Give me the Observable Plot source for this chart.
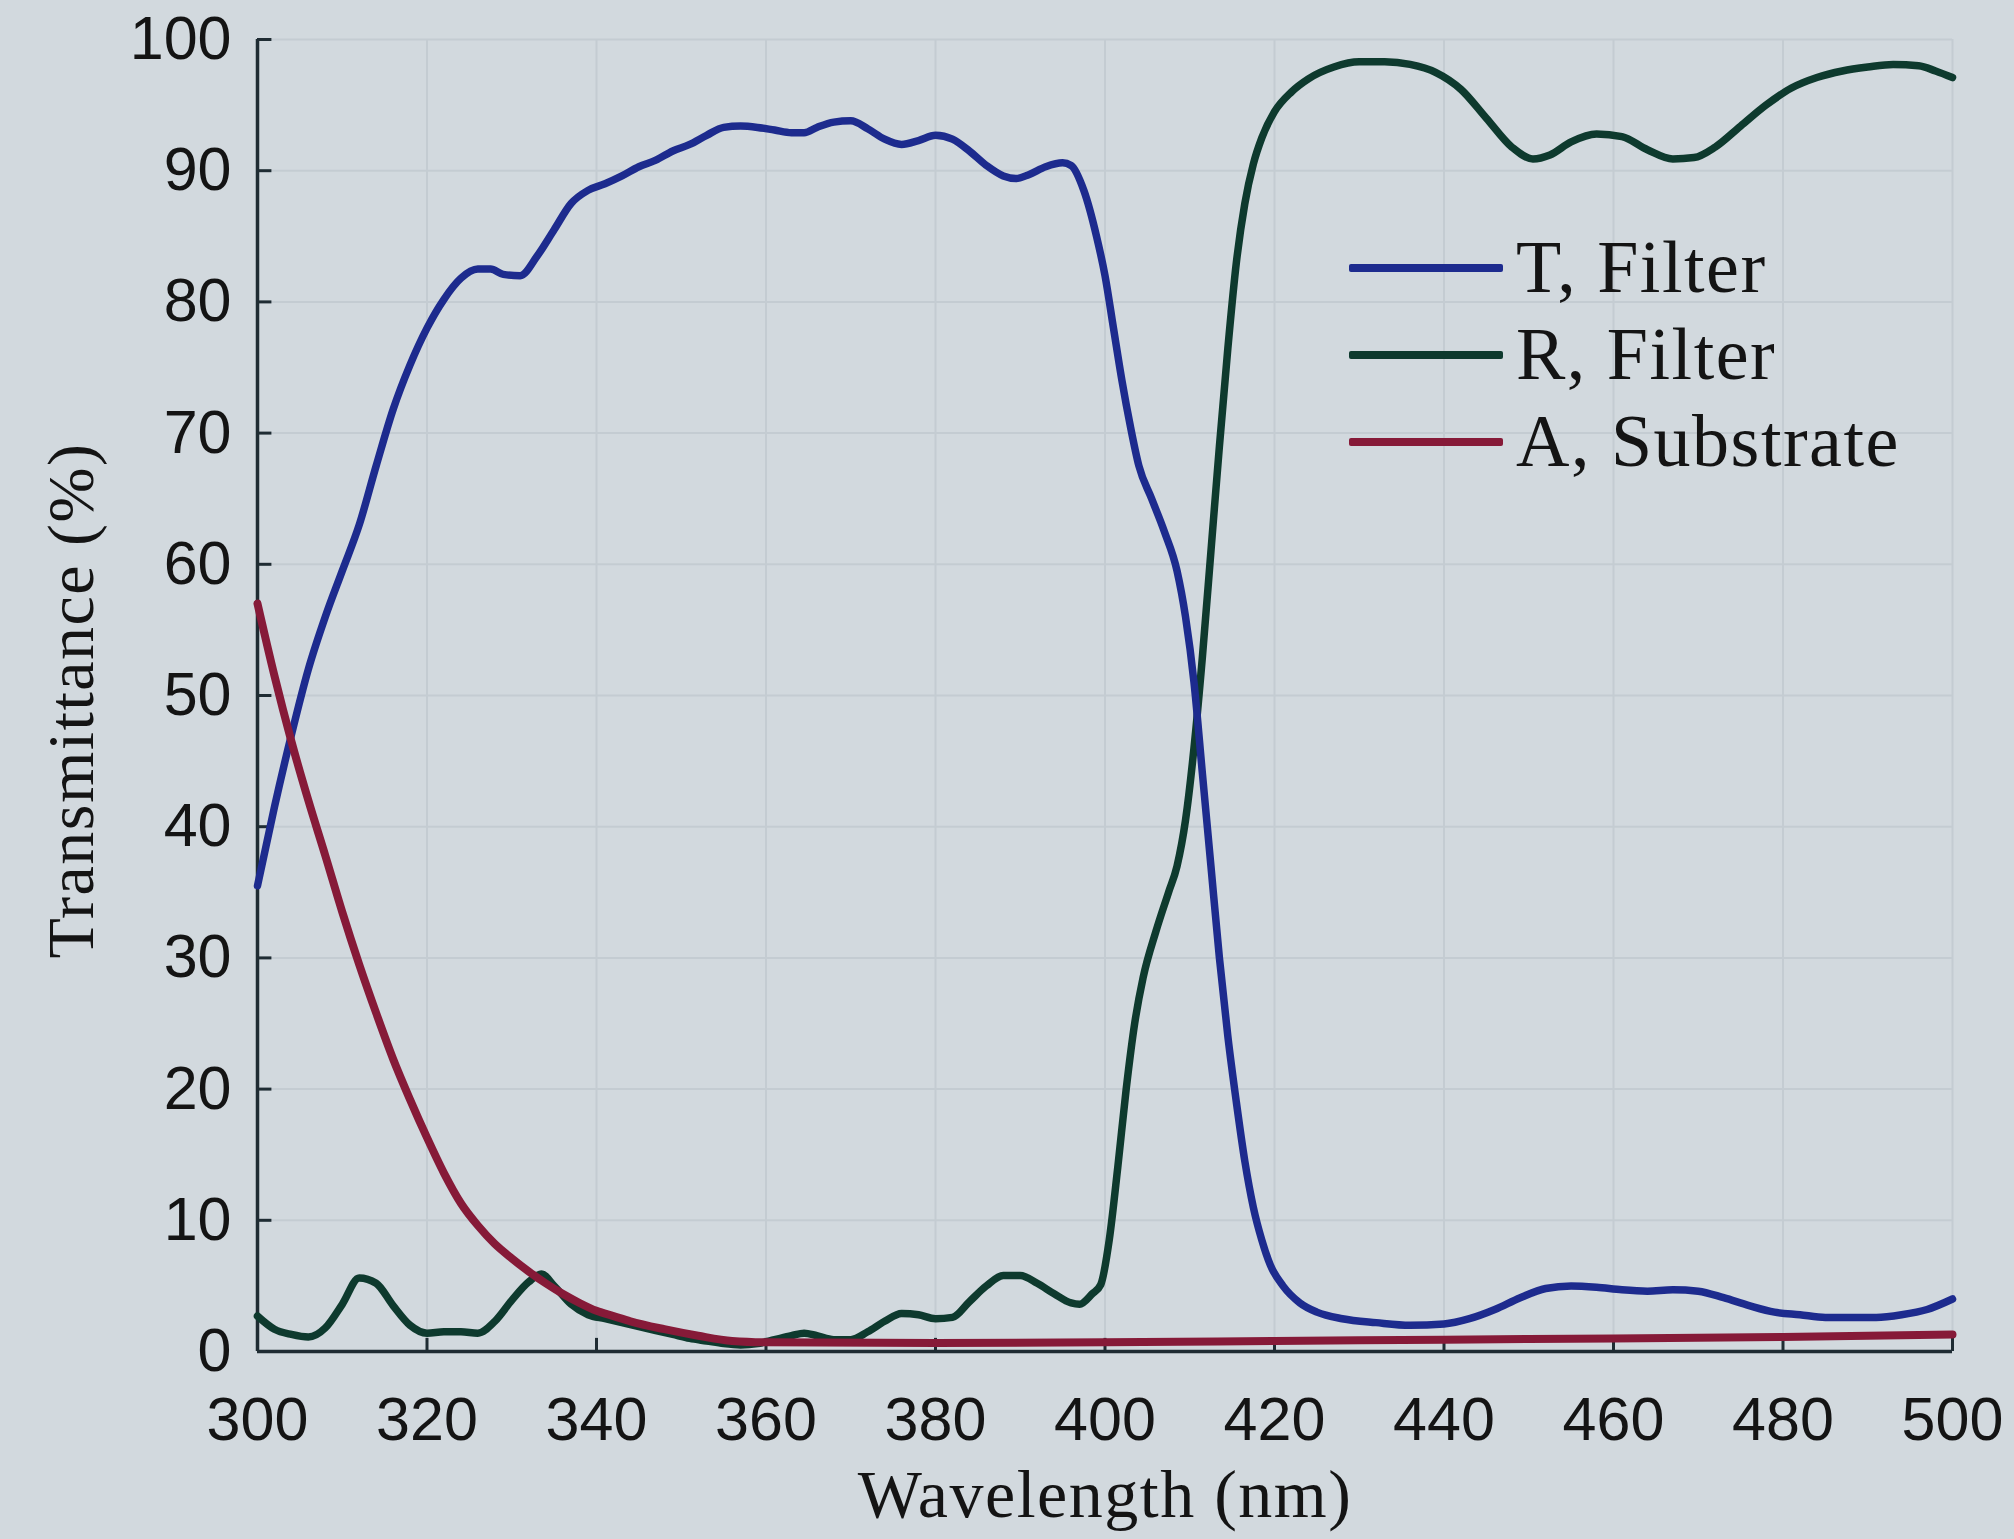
<!DOCTYPE html>
<html>
<head>
<meta charset="utf-8">
<script src="https://cdn.jsdelivr.net/npm/d3@7"></script>
<script src="https://cdn.jsdelivr.net/npm/@observablehq/plot@0.6"></script>
<style>
html, body { margin: 0; padding: 0; background: #d2d9de; }
#wrap { position: relative; width: 2014px; height: 1539px; overflow: hidden; }
#legend { position: absolute; left: 1349px; top: 224px; font-family: "Liberation Serif", serif; font-size: 74px; letter-spacing: 1.5px; color: #141414; }
#legend .row { display: flex; align-items: center; height: 87px; }
#legend .sw { width: 154px; height: 8px; margin-right: 13px; border-radius: 2px; }
</style>
</head>
<body>
<div id="wrap"></div>
<script>
// ---- Data ----
const xTicks = [300, 320, 340, 360, 380, 400, 420, 440, 460, 480, 500];
const yTicks = [0, 10, 20, 30, 40, 50, 60, 70, 80, 90, 100];

const seriesNames = ["T, Filter", "R, Filter", "A, Substrate"];
const seriesColors = ["#1d2b8e", "#0e3a2e", "#861a38"];

const wlT = [300,302,304,306,308,310,312,314,316,318,320,322,324,326,327.5,329,331,333,335,337,339,341,343,345,347,349,351,353,355,357,359,361,363,364.5,366,368,370,372,374,376,378,380,382,384,386,388,389.5,391,393,395,396,397.5,399,400,401,402,403,404,405.5,407,408.5,409.5,410.5,411.5,412.5,413.5,414.5,415.5,416.5,417.5,418.5,419.5,421,423,425,428,432,436,440,443,446,449,452,455,458,461,464,467,470,473,476,479,482,485,488,491,494,497,500];
const valT = [35.5,41.5,47,52,56,59.5,63,67.5,71.8,75.2,78,80.2,81.8,82.5,82.5,82.1,82.0,83.5,85.5,87.5,88.5,89,89.6,90.3,90.8,91.5,92,92.7,93.3,93.4,93.3,93.1,92.9,92.9,93.3,93.7,93.8,93.2,92.4,92.0,92.3,92.7,92.4,91.5,90.4,89.6,89.4,89.7,90.3,90.6,90.4,88.5,85,82,78,74,70.5,67.5,65,62.5,59.5,56,51,44,37,30,24,19,14.5,11,8.5,6.6,5,3.7,3,2.5,2.2,2.0,2.1,2.5,3.2,4.1,4.8,5.0,4.9,4.7,4.6,4.7,4.6,4.1,3.5,3.0,2.8,2.6,2.6,2.6,2.8,3.2,4.0];

const wlR = [300,302,304,306,308,310,312,314,316,318,320,322,324,326,328,330,332,333.5,335,337,339,341,343,345,347,349,351,353,355,357,359,361,363,364.5,366,368,370,372,374,376,378,380,382,384,386,388,390,392,394,396,397,398.5,399.5,400.5,401.5,402.5,403.5,404.5,406,407.5,408.5,409.5,410.5,411.5,412.5,413.5,414.5,415.5,416.5,417.5,418.5,420,422,424,427,430,433,436,439,442,445,448,450.5,452.5,455,458,461,464,467,469.5,472,475,478,481,484,487,490,493,496,498,500];
const valR = [2.7,1.7,1.3,1.1,1.8,3.6,5.6,5.2,3.5,2.0,1.4,1.5,1.5,1.4,2.3,3.9,5.3,5.9,5.0,3.6,2.8,2.5,2.2,1.9,1.6,1.3,1.0,0.8,0.6,0.5,0.6,0.9,1.2,1.4,1.2,0.9,0.9,1.5,2.3,2.9,2.8,2.5,2.6,3.8,5.0,5.8,5.8,5.2,4.4,3.7,3.6,4.4,5.1,8.5,14,20,25,28.5,32,35,37,40.5,46,53,61,69,76.5,83,87.5,90.5,92.5,94.5,96,97,97.9,98.3,98.3,98.1,97.5,96.2,94,91.8,90.9,91.2,92.2,92.8,92.6,91.6,90.9,91.0,91.8,93.4,95,96.3,97.1,97.6,97.9,98.1,98,97.6,97.1];

const wlA = [300,302,304,306,308,310,312,314,316,318,320,322,324,326,328,330,332,334,336,338,340,342,344,348,352,356,360,380,400,420,440,460,480,500];
const valA = [57,51.5,46.5,42,37.8,33.5,29.5,25.8,22.3,19.2,16.3,13.6,11.3,9.6,8.2,7.1,6.1,5.2,4.4,3.7,3.1,2.7,2.3,1.7,1.2,0.8,0.7,0.65,0.7,0.8,0.9,1.0,1.1,1.3];

// ---- Build table ----
const toRows = (name, wl, v) => wl.map((w, i) => ({series: name, wl: w, v: v[i]}));
const rowsT = toRows(seriesNames[0], wlT, valT);
const rowsR = toRows(seriesNames[1], wlR, valR);
const rowsA = toRows(seriesNames[2], wlA, valA);

const axisColor = "#1f2c33";
const gridColor = "#c4ccd2";

const chart = Plot.plot({
  width: 2014,
  height: 1539,
  marginLeft: 257,
  marginRight: 62,
  marginTop: 39,
  marginBottom: 188,
  style: {background: "transparent", overflow: "visible"},
  x: {domain: [300, 500]},
  y: {domain: [0, 100]},
  color: {domain: seriesNames, range: seriesColors},
  marks: [
    Plot.gridX(xTicks, {stroke: gridColor, strokeOpacity: 1, strokeWidth: 2}),
    Plot.gridY(yTicks, {stroke: gridColor, strokeOpacity: 1, strokeWidth: 2}),
    Plot.axisX(xTicks, {tickSize: 0, tickPadding: 45, fontSize: 61, fontFamily: "Liberation Sans, Arial, sans-serif", fill: "#141414", label: null}),
    Plot.axisY(yTicks, {tickSize: 0, tickPadding: 26, fontSize: 61, fontFamily: "Liberation Sans, Arial, sans-serif", fill: "#141414", label: null}),
    Plot.ruleX(xTicks, {y1: 0, y2: 1.0, stroke: axisColor, strokeWidth: 3}),
    Plot.ruleY(yTicks, {x1: 300, x2: 301.7, stroke: axisColor, strokeWidth: 3}),
    Plot.ruleY([0], {stroke: axisColor, strokeWidth: 3.5}),
    Plot.ruleX([300], {stroke: axisColor, strokeWidth: 3.5}),
    Plot.line(rowsR, {x: "wl", y: "v", stroke: "series", strokeWidth: 7.5, curve: "monotone-x"}),
    Plot.line(rowsT, {x: "wl", y: "v", stroke: "series", strokeWidth: 7.5, curve: "monotone-x"}),
    Plot.line(rowsA, {x: "wl", y: "v", stroke: "series", strokeWidth: 8, curve: "monotone-x"}),
    Plot.text(["Wavelength (nm)"], {text: d => d, frameAnchor: "bottom", dy: 165, lineAnchor: "bottom", textAnchor: "middle", fontSize: 68, fontFamily: "Liberation Serif, serif", fill: "#141414"}),
    Plot.text(["Transmittance (%)"], {text: d => d, frameAnchor: "left", dx: -165, dy: 5, rotate: -90, lineAnchor: "bottom", textAnchor: "middle", fontSize: 66, fontFamily: "Liberation Serif, serif", fill: "#141414"})
  ]
});

d3.select(chart).selectAll("text")
  .filter(function() { return this.textContent === "Wavelength (nm)" || this.textContent === "Transmittance (%)"; })
  .style("letter-spacing", "1.5px");

const wrap = document.getElementById("wrap");
wrap.appendChild(chart);

// Legend (HTML overlay)
const legend = document.createElement("div");
legend.id = "legend";
seriesNames.forEach((name, i) => {
  const row = document.createElement("div");
  row.className = "row";
  const sw = document.createElement("div");
  sw.className = "sw";
  sw.style.background = seriesColors[i];
  const label = document.createElement("span");
  label.textContent = name;
  row.appendChild(sw);
  row.appendChild(label);
  legend.appendChild(row);
});
wrap.appendChild(legend);
</script>
</body>
</html>
